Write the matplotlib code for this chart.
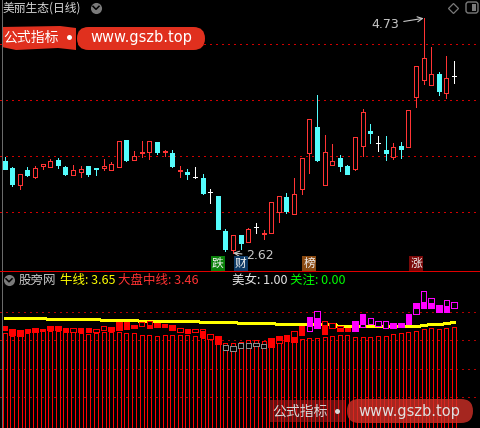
import numpy as np
import matplotlib
matplotlib.use('Agg')
import matplotlib.pyplot as plt
from matplotlib.patches import Rectangle, FancyBboxPatch, Polygon
from matplotlib.lines import Line2D
from matplotlib.transforms import Affine2D

plt.rcParams['font.family'] = ['Noto Sans CJK SC', 'DejaVu Sans']
nan = float('nan')

# ---------------- data ----------------
opens = [3.447, 3.384, 3.234, 3.366, 3.306, 3.405, 3.390, 3.456, 3.393, 3.324,
         3.351, 3.402, 3.384, 3.387, 3.369, 3.396, 3.636, 3.453, 3.516, 3.525,
         3.618, 3.528, 3.522, 3.357, 3.345, 3.306, 3.294, 3.166, 3.132, 2.818,
         2.650, 2.782, 2.716, 2.851, 2.791, 2.803, 2.986, 3.123, 2.968, 3.193,
         3.516, 3.753, 3.234, 3.408, 3.471, 3.402, 3.375, 3.586, 3.717, 3.606,
         3.546, 3.486, 3.582, 3.570, 4.025, 4.173, 4.133, 4.229, 4.056, 4.209]
highs = [3.483, 3.393, 3.330, 3.393, 3.402, 3.423, 3.465, 3.474, 3.402, 3.411,
         3.402, 3.402, 3.384, 3.465, 3.438, 3.627, 3.636, 3.537, 3.627, 3.627,
         3.618, 3.546, 3.546, 3.402, 3.375, 3.393, 3.330, 3.198, 3.132, 2.833,
         2.782, 2.782, 2.848, 2.892, 2.827, 3.076, 3.132, 3.159, 3.294, 3.471,
         3.822, 4.040, 3.681, 3.600, 3.498, 3.411, 3.660, 3.915, 3.780, 3.672,
         3.672, 3.612, 3.618, 3.906, 4.301, 4.730, 4.475, 4.247, 4.391, 4.346]
lows = [3.371, 3.225, 3.195, 3.312, 3.297, 3.375, 3.390, 3.387, 3.324, 3.324,
        3.306, 3.315, 3.324, 3.369, 3.369, 3.396, 3.450, 3.453, 3.480, 3.462,
        3.513, 3.489, 3.396, 3.306, 3.288, 3.297, 3.148, 3.069, 2.836, 2.641,
        2.620, 2.656, 2.716, 2.803, 2.746, 2.803, 2.896, 2.982, 2.968, 3.148,
        3.342, 3.450, 3.234, 3.408, 3.360, 3.333, 3.366, 3.492, 3.612, 3.540,
        3.456, 3.462, 3.471, 3.570, 3.930, 4.139, 4.133, 4.043, 4.011, 4.151]
closes = [3.375, 3.243, 3.330, 3.321, 3.384, 3.423, 3.447, 3.414, 3.333, 3.366,
          3.375, 3.333, 3.378, 3.402, 3.420, 3.627, 3.459, 3.489, 3.525, 3.627,
          3.531, 3.540, 3.405, 3.366, 3.333, 3.306, 3.162, 3.166, 2.836, 2.659,
          2.782, 2.713, 2.833, 2.851, 2.803, 3.076, 3.132, 2.998, 3.148, 3.471,
          3.822, 3.453, 3.525, 3.447, 3.405, 3.333, 3.660, 3.885, 3.702, 3.606,
          3.522, 3.573, 3.552, 3.906, 4.301, 4.370, 4.229, 4.079, 4.191, 4.209]

signal_idx = [28, 31, 40, 54]
signal_text = ['跌', '财', '榜', '涨']
signal_bg = ['#0A800A', '#0E3A66', '#8A4A12', '#7A0808']

high_label = '4.73'
low_label = '2.62'

# lower panel
bull_line = [3.836] * 6 + [3.783] * 7 + [3.731] * 5 + [3.690] * 8 + [3.650] * 5 + \
            [3.610] * 5 + [3.569] * 8 + [3.488] * 11 + [3.529] + [3.581] * 2 + [3.610] + [3.650]
mid_line = [3.206, 3.109, 3.137, 3.206, 3.270, 3.299, 3.299, 3.299, 3.299, 3.246,
            3.230, 3.177, 3.230, 3.246, 3.246, 3.246, 3.206, 3.206, 3.137, 3.137,
            3.097, 3.137, 3.137, 3.137, 3.137, 3.097, 3.028, 2.975, 2.866, 2.802,
            2.802, 2.866, 2.923, 2.923, 2.895, 2.842, 2.842, 2.935, 2.935, 2.975,
            3.004, 3.028, 3.056, 3.109, 3.137, 3.137, 3.068, 3.068, 3.068, 3.097,
            3.097, 3.165, 3.206, 3.246, 3.311, 3.379, 3.408, 3.379, 3.408, 3.460]
box_color = ['r'] * 29 + ['g'] * 6 + ['r'] * 5 + ['m'] * 2 + ['r'] * 4 + ['m'] * 14
hol_top = [nan, nan, nan, nan, nan, nan, nan, nan, nan, 3.408,
           nan, nan, 3.367, 3.488, nan, nan, nan, nan, 3.650, 3.703,
           nan, nan, nan, 3.408, nan, 3.379, 3.379, 3.165, nan, 2.733,
           2.693, 2.802, 2.802, 2.826, 2.761, nan, 3.097, nan, 3.299, nan,
           3.876, 4.107, 3.703, 3.610, 3.501, nan, nan, 3.985, 3.836, 3.703,
           3.703, nan, nan, nan, 4.418, 4.915, 4.620, 4.349, 4.551, 4.458]
hol_bot = [nan, nan, nan, nan, nan, nan, nan, nan, nan, 3.270,
           nan, nan, 3.270, 3.327, nan, nan, nan, nan, 3.513, 3.541,
           nan, nan, nan, 3.270, nan, 3.246, 3.299, 2.975, nan, 2.519,
           2.478, 2.600, 2.624, 2.680, 2.624, nan, 2.802, nan, 3.068, nan,
           3.311, 3.432, 3.177, 3.408, 3.311, nan, nan, 3.472, 3.569, 3.501,
           3.432, nan, nan, nan, 3.985, 4.216, 4.216, 4.066, 4.078, 4.240]
fil_top = [3.501, 3.379, 3.327, 3.379, 3.408, 3.379, 3.501, 3.501, 3.408, nan,
           3.408, 3.408, nan, nan, 3.448, 3.650, 3.650, 3.541, nan, 3.541,
           3.622, 3.581, 3.541, nan, 3.379, nan, 3.299, nan, 3.097, nan,
           nan, nan, nan, nan, nan, 3.004, 3.097, 3.125, 3.068, 3.501,
           3.876, 3.812, 3.541, nan, 3.432, 3.432, 3.703, 3.985, nan, nan,
           nan, 3.622, 3.622, 3.985, 4.418, 4.482, 4.430, 4.349, 4.309, nan]
fil_bot = [3.339, 3.137, 3.109, 3.246, 3.246, 3.299, 3.339, 3.339, 3.270, nan,
           3.246, 3.246, nan, nan, 3.299, 3.327, 3.379, 3.408, nan, 3.420,
           3.460, 3.460, 3.339, nan, 3.230, nan, 3.068, nan, 2.761, nan,
           nan, nan, nan, nan, nan, 2.664, 2.935, 2.907, 2.866, 3.137,
           3.501, 3.432, 3.177, nan, 3.311, 3.311, 3.311, 3.569, nan, nan,
           nan, 3.408, 3.460, 3.569, 4.216, 4.216, 4.216, 4.119, 4.078, nan]
header_items = [('股旁网', '#C8C8C8'),
                ('牛线: %.2f' % bull_line[-1], '#FFFF00'),
                ('大盘中线: %.2f' % mid_line[-1], '#FF3232'),
                ('美女: 1.00', '#E6E6E6'),
                ('关注: 0.00', '#00FF00')]
header_x = [19, 60, 118, 232, 290]

# ---------------- figure ----------------
W, H = 480, 428
fig = plt.figure(figsize=(W / 100, H / 100), dpi=100, facecolor='black')
px = Affine2D().scale(1 / 100, -1 / 100).translate(0, H / 100) + fig.dpi_scale_trans

ax1 = fig.add_axes([0, (H - 270) / H, 1, 270 / H])
ax2 = fig.add_axes([0, 0, 1, (H - 272) / H])
xlim = (-0.5906, 62.40)
for ax in (ax1, ax2):
    ax.set_facecolor('black')
    ax.set_xlim(*xlim)
    ax.set_axis_off()
ax1.set_ylim(2.467, 4.8945)
ax2.set_ylim(-0.620, 5.682)

RED = '#FF3434'
CYAN = '#54FCFC'
LW = 0.72
bw = 0.525
xs = np.arange(len(opens))
AA = False

# grid lines (dotted)
for lv in [4.499, 3.995, 3.492, 2.989]:
    ax1.axhline(lv, color='#D00000', lw=0.9, linestyle=(0, (1.2, 3.2)), zorder=0.5, antialiased=AA)
for lv in [4.046, 2.915, 1.763, 0.632]:
    ax2.axhline(lv, color='#B00000', lw=0.9, linestyle=(0, (1.2, 3.2)), zorder=0.5, antialiased=AA)

# candles
for i in xs:
    o, h, l, c = opens[i], highs[i], lows[i], closes[i]
    if c > o:
        ax1.add_patch(Rectangle((i - bw / 2, o), bw, c - o, fc='black', ec=RED, lw=LW, zorder=3, antialiased=AA))
        ax1.plot([i, i], [c, h], color=RED, lw=LW, zorder=2, solid_capstyle='butt', antialiased=AA)
        ax1.plot([i, i], [l, o], color=RED, lw=LW, zorder=2, solid_capstyle='butt', antialiased=AA)
    elif c < o:
        ax1.plot([i, i], [l, h], color=CYAN, lw=LW, zorder=2, solid_capstyle='butt', antialiased=AA)
        ax1.add_patch(Rectangle((i - bw / 2, c), bw, o - c, fc=CYAN, ec=CYAN, lw=LW, zorder=3, antialiased=AA))
    else:
        ax1.plot([i, i], [l, h], color='white', lw=LW, zorder=2, solid_capstyle='butt', antialiased=AA)
        ax1.plot([i - bw / 2, i + bw / 2], [o, o], color='white', lw=LW, zorder=3, antialiased=AA)

# high / low labels
hi_i = int(np.argmax(highs))
lo_i = int(np.argmin(lows))
ax1.annotate(high_label, xy=(hi_i, highs[hi_i]), xytext=(-24, -6), textcoords='offset pixels',
             ha='right', va='center', color='#C8C8C8', fontsize=9, family='DejaVu Sans',
             arrowprops=dict(arrowstyle='->', color='#C8C8C8', lw=0.8, shrinkA=1, shrinkB=0))
ax1.annotate(low_label, xy=(lo_i, lows[lo_i]), xytext=(13, -3), textcoords='offset pixels',
             ha='left', va='center', color='#C8C8C8', fontsize=9, family='DejaVu Sans',
             arrowprops=dict(arrowstyle='->', color='#C8C8C8', lw=0.8, shrinkA=1, shrinkB=0))

# signal tags
for k, i in enumerate(signal_idx):
    ax1.text(i, 2.527, signal_text[k], ha='center', va='center', color='#F0F0F0', fontsize=8.5,
             bbox=dict(boxstyle='square,pad=0.08', fc=signal_bg[k], ec='none'), zorder=5)

# lower panel: tall bars
for i in xs:
    ax2.add_patch(Rectangle((i - bw / 2, -1.5), bw, mid_line[i] + 1.5, fc='none', ec='#FF0000', lw=LW,
                            zorder=2, antialiased=AA))
ax2.plot(xs, bull_line, color='#FFFF00', lw=0.9, drawstyle='steps-mid', zorder=3, antialiased=AA)
cmap = {'r': '#FF0000', 'm': '#FF00FF', 'g': '#8C8C8C'}
for i in xs:
    col = cmap[box_color[i]]
    if not np.isnan(hol_top[i]):
        ax2.add_patch(Rectangle((i - bw / 2 - 0.1, hol_bot[i]), bw + 0.2, hol_top[i] - hol_bot[i],
                                fc='black', ec=col, lw=LW, zorder=4, antialiased=AA))
    if not np.isnan(fil_top[i]):
        ax2.add_patch(Rectangle((i - bw / 2 - 0.1, fil_bot[i]), bw + 0.2, fil_top[i] - fil_bot[i],
                                fc=col, ec=col, lw=LW, zorder=5, antialiased=AA))

# ---------------- decorations ----------------
fig.add_artist(Line2D([1.5, 1.5], [0, H], transform=px, color='#6A6A6A', lw=0.72, antialiased=AA))
fig.add_artist(Line2D([0, W], [271, 271], transform=px, color='#E00000', lw=0.72, antialiased=AA))

fig.text(3, 8, '美丽生态(日线)', transform=px, color='#D8D8D8', fontsize=8.5, va='center', ha='left')


def chevron_button(cx, cy):
    fig.add_artist(Line2D([cx], [cy], transform=px, marker='o', markersize=8, color='#7A7A7A', mec='none'))
    fig.add_artist(Line2D([cx - 3, cx, cx + 3], [cy - 1.2, cy + 1.8, cy - 1.2], transform=px, color='black', lw=1.1))


chevron_button(96, 7.5)
chevron_button(9, 280)
fig.add_artist(Line2D([453], [7.5], transform=px, marker='D', markersize=5.5, mfc='none', mec='#7A7A7A', mew=0.9))
fig.add_artist(FancyBboxPatch((466, 2), 12, 11, boxstyle='round,pad=0,rounding_size=2.5', transform=px,
                              fc='none', ec='#7A7A7A', lw=1.0))
fig.add_artist(Rectangle((472, 4), 4, 7, transform=px, fc='#7A7A7A', ec='none'))

for k, (t, col) in enumerate(header_items):
    fig.text(header_x[k], 280.5, t, transform=px, color=col, fontsize=9, va='center', ha='left')

# watermarks
WM = '#E0301E'
fig.add_artist(Polygon([(2, 27), (60, 26), (76, 28), (76, 50), (58, 48), (16, 50), (2, 47)], closed=True,
                       transform=px, fc=WM, ec='none'))
fig.add_artist(FancyBboxPatch((77, 27), 128, 23, boxstyle='round,pad=0,rounding_size=11.5', transform=px,
                              fc=WM, ec='none'))
fig.add_artist(Line2D([69], [37], transform=px, marker='o', markersize=3.6, color='white', mec='none'))
fig.text(3, 37.5, '公式指标', transform=px, color='white', fontsize=10, va='center', ha='left')
fig.text(141, 37.5, 'www.gszb.top', transform=px, color='white', fontsize=10.5, va='center', ha='center',
         family='DejaVu Sans')

fig.add_artist(Rectangle((270, 400), 75, 22, transform=px, fc='#B02020', ec='none', alpha=0.55))
fig.add_artist(FancyBboxPatch((347, 399), 126, 24, boxstyle='round,pad=0,rounding_size=12', transform=px,
                              fc='#D03028', ec='none', alpha=0.8))
fig.add_artist(Line2D([337], [411], transform=px, marker='o', markersize=3.6, color='#D8D8D8', mec='none'))
fig.text(272, 411.5, '公式指标', transform=px, color='#D8D8D8', fontsize=10, va='center', ha='left')
fig.text(409, 411.5, 'www.gszb.top', transform=px, color='#E0E0E0', fontsize=10.5, va='center', ha='center',
         family='DejaVu Sans')

fig.savefig('out.png', dpi=100, facecolor='black')
